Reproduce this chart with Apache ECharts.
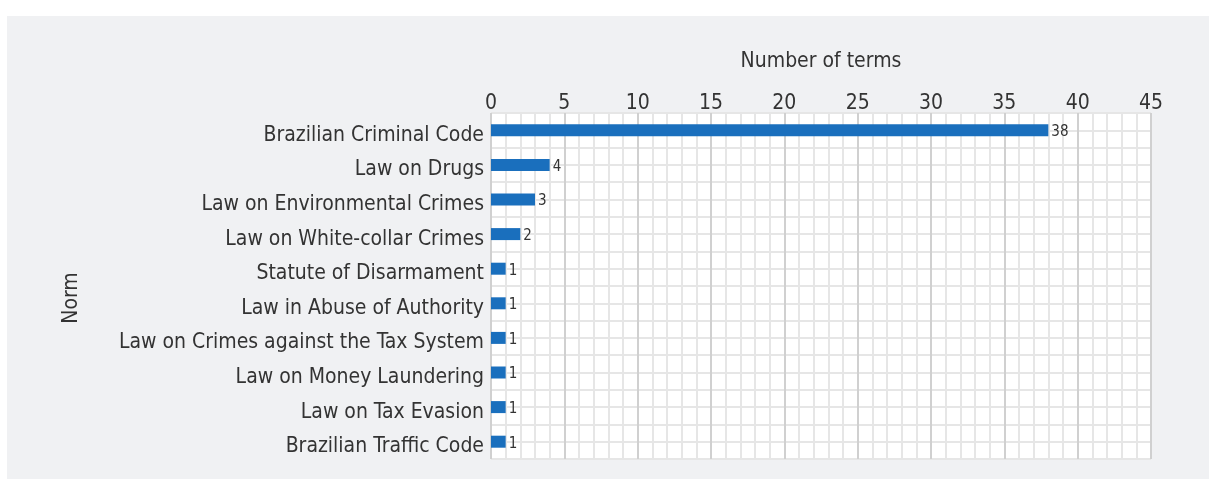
<!DOCTYPE html>
<html>
<head>
<meta charset="utf-8">
<script src="https://cdn.jsdelivr.net/npm/echarts@6/dist/echarts.min.js"></script>
<style>
	html, body {
		margin: 0;
		padding: 0;
		background: #ffffff;
	}
	.panel {
		position: absolute;
		left: 7px;
		top: 16px;
		width: 1202px;
		height: 463px;
		background-color: #f0f1f3;
	}
	#main {
		position: absolute;
		left: 0;
		top: 0;
		width: 1209px;
		height: 479px;
	}
</style>
</head>
<body>
<div class="panel"></div>
<div id="main"></div>
<script>
	// norms, top to bottom
	var categories = [
		'Brazilian Criminal Code',
		'Law on Drugs',
		'Law on Environmental Crimes',
		'Law on White-collar Crimes',
		'Statute of Disarmament',
		'Law in Abuse of Authority',
		'Law on Crimes against the Tax System',
		'Law on Money Laundering',
		'Law on Tax Evasion',
		'Brazilian Traffic Code'
	]
	var terms = [38, 4, 3, 2, 1, 1, 1, 1, 1, 1]

	var font = '"DejaVu Sans Condensed", "Liberation Sans", sans-serif'
	var textColor = '#333333'

	var myChart = echarts.init(document.getElementById('main'))

	var option = {
		backgroundColor: 'transparent',
		animation: false,
		grid: {
			left: 491,
			right: 58,
			top: 113,
			bottom: 20,
			show: true,
			backgroundColor: '#ffffff',
			borderWidth: 0
		},
		xAxis: {
			type: 'value',
			position: 'top',
			min: 0,
			max: 45,
			interval: 5,
			name: 'Number of terms',
			nameLocation: 'middle',
			nameGap: 41,
			nameMoveOverlap: false,
			nameTextStyle: { fontFamily: font, fontSize: 21, color: textColor },
			axisLine: { show: false },
			axisTick: { show: false },
			axisLabel: { fontFamily: font, fontSize: 21, color: textColor, margin: -1 },
			splitLine: { show: true, lineStyle: { color: '#d0d0d0', width: 2 } },
			minorTick: { show: false, splitNumber: 5 },
			minorSplitLine: { show: true, lineStyle: { color: '#e6e6e6', width: 2 } }
		},
		yAxis: [
			{
				type: 'category',
				inverse: true,
				data: categories,
				name: 'Norm',
				nameLocation: 'middle',
				nameRotate: 90,
				nameGap: 409,
				nameMoveOverlap: false,
				nameTextStyle: { fontFamily: font, fontSize: 21, color: textColor, padding: [0, 24, 0, 0] },
				axisLine: { show: false },
				axisTick: { show: false },
				axisLabel: {
					fontFamily: font, fontSize: 21, color: textColor, margin: 7,
					verticalAlign: 'top', lineHeight: 10
				},
				splitLine: { show: false }
			},
			{
				// half-row grid lines
				type: 'value',
				position: 'left',
				min: 0,
				max: 20,
				interval: 1,
				axisLine: { show: false },
				axisTick: { show: false },
				axisLabel: { show: false },
				splitLine: { show: true, lineStyle: { color: '#e6e6e6', width: 2 } }
			}
		],
		series: [
			{
				type: 'bar',
				yAxisIndex: 0,
				data: terms,
				barWidth: 12,
				itemStyle: { color: '#1a6fbd' },
				label: {
					show: true,
					position: 'right',
					distance: 3,
					fontFamily: font,
					fontSize: 15,
					color: textColor,
					verticalAlign: 'top',
					lineHeight: 4
				}
			}
		]
	}

	myChart.setOption(option, true)
</script>
</body>
</html>
